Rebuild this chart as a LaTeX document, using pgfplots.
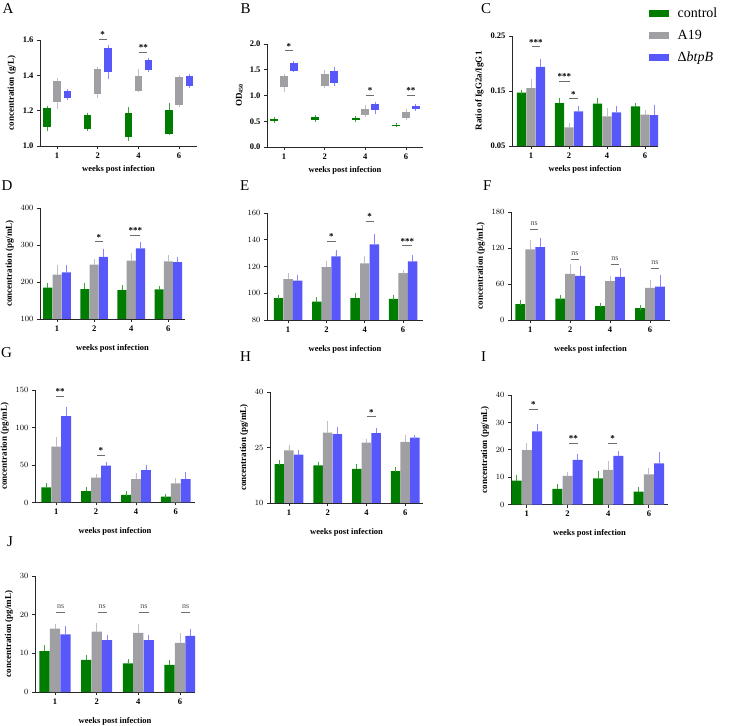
\documentclass[border=0pt]{standalone}
\usepackage{fontspec}
\setmainfont{Liberation Serif}
\usepackage{pgfplots}
\usepackage{pgfplotstable}
\pgfplotsset{compat=1.18}

\definecolor{cgreen}{RGB}{0,125,0}
\definecolor{cgreenl}{RGB}{60,165,60}
\definecolor{cgray}{RGB}{160,160,164}
\definecolor{cgrayl}{RGB}{192,192,196}
\definecolor{cblue}{RGB}{88,88,250}
\definecolor{cbluel}{RGB}{135,135,255}
\definecolor{axcol}{RGB}{40,40,40}
\definecolor{sigcol}{RGB}{110,110,110}

\tikzset{
  sigline/.style={sigcol, line width=0.8pt},
  sigtxt/.style={anchor=base, inner sep=0pt, yshift=1.5pt, font=\bfseries\fontsize{9}{9}\selectfont},
  nstxt/.style={anchor=base, inner sep=0pt, yshift=3.5pt, text=black!70, font=\fontsize{8}{8}\selectfont},
  letter/.style={anchor=base west, inner sep=0pt, font=\fontsize{15}{15}\selectfont},
}

\pgfplotsset{
  panel/.style={scale only axis, anchor=south west,
    axis x line*=bottom, axis y line*=left,
    axis line style={axcol, line width=0.8pt, -},
    tick align=outside, major tick length=3pt,
    tick style={axcol, line width=0.8pt},
    xtick={0,1,2,3}, xticklabels={1,2,4,6},
    scaled ticks=false,
    ticklabel style={font=\bfseries\fontsize{8.5}{9}\selectfont},
    xlabel style={font=\bfseries\fontsize{8.5}{10}\selectfont},
    ylabel style={font=\bfseries\fontsize{9}{10}\selectfont},
    xlabel={weeks post infection},
    ylabel={concentration (pg/mL)},
  },
  lowrow/.style={xlabel style={yshift=-6pt}},
  barpanel/.style={panel, lowrow, ybar, bar width=0.245, clip mode=individual},
  boxpanel/.style={panel, clip=false},
}

% floating boxes (range lq..uq) with whiskers (lw..uw) from a table
% args: table, fill colour, whisker colour, box width
\newcommand{\boxes}[4]{%
  \addplot[forget plot, draw=none, mark=none,
    error bars/.cd, y dir=both, y explicit,
    error bar style={draw=#3, line width=0.7pt},
    error mark options={draw=#3, line width=0.7pt, mark size=1.6pt}]
    table[x=x, y=lq, y error plus expr=\thisrow{uw}-\thisrow{lq},
          y error minus expr=\thisrow{lq}-\thisrow{lw}] {#1};
  \addplot[forget plot, draw=none, mark=none,
    error bars/.cd, y dir=plus, y explicit, error mark=none,
    error bar style={draw=#2, line width=#4}]
    table[x=x, y=lq, y error plus expr=\thisrow{uq}-\thisrow{lq}] {#1};
}

% three bar series (mean + upper SD) from a table
\newcommand{\barset}[1]{%
  \addplot[forget plot, fill=cgreen, draw=none, bar shift=-0.25,
    error bars/.cd, y dir=plus, y explicit,
    error bar style={draw=cgreenl, line width=0.8pt},
    error mark options={draw=cgreenl, line width=0.8pt, mark size=2.2pt}]
    table[x=x, y=c, y error=ce] {#1};
  \addplot[forget plot, fill=cgray, draw=none, bar shift=0,
    error bars/.cd, y dir=plus, y explicit,
    error bar style={draw=cgrayl, line width=0.8pt},
    error mark options={draw=cgrayl, line width=0.8pt, mark size=2.2pt}]
    table[x=x, y=a, y error=ae] {#1};
  \addplot[forget plot, fill=cblue, draw=none, bar shift=0.25,
    error bars/.cd, y dir=plus, y explicit,
    error bar style={draw=cbluel, line width=0.8pt},
    error mark options={draw=cbluel, line width=0.8pt, mark size=2.2pt}]
    table[x=x, y=b, y error=be] {#1};
}

% significance bar: x from, x to, text x, y, text
\newcommand{\sig}[5]{\draw[sigline] (axis cs:#1,#4) -- (axis cs:#2,#4);
  \node[sigtxt] at (axis cs:#3,#4) {#5};}
\newcommand{\ns}[4]{\draw[sigline] (axis cs:#1,#4) -- (axis cs:#2,#4);
  \node[nstxt] at (axis cs:#3,#4) {ns};}

% ---- A: serum protein (g/L), min / box / max
\pgfplotstableread{
x lw lq uq uw
-0.25 1.092 1.108 1.215 1.218
0.75 1.096 1.098 1.174 1.180
1.75 1.036 1.051 1.189 1.212
2.75 1.070 1.070 1.206 1.234
}\bAc
\pgfplotstableread{
x lw lq uq uw
0 1.221 1.248 1.367 1.373
1 1.282 1.297 1.435 1.439
2 1.314 1.314 1.399 1.424
3 1.231 1.231 1.392 1.395
}\bAa
\pgfplotstableread{
x lw lq uq uw
0.25 1.268 1.272 1.310 1.314
1.25 1.388 1.420 1.556 1.560
2.25 1.430 1.430 1.486 1.490
3.25 1.339 1.339 1.395 1.400
}\bAb
% ---- B: OD450
\pgfplotstableread{
x lw lq uq uw
-0.24 0.50 0.51 0.55 0.56
0.76 0.52 0.53 0.58 0.59
1.76 0.51 0.52 0.57 0.58
2.76 0.41 0.415 0.435 0.44
}\bBc
\pgfplotstableread{
x lw lq uq uw
0 1.108 1.173 1.381 1.385
1 1.173 1.186 1.420 1.466
2 0.62 0.62 0.73 0.78
3 0.56 0.56 0.67 0.70
}\bBa
\pgfplotstableread{
x lw lq uq uw
0.24 1.485 1.485 1.63 1.635
1.24 1.22 1.238 1.466 1.53
2.24 0.67 0.717 0.834 0.847
3.24 0.73 0.73 0.795 0.80
}\bBb

% columns: week index, control, sd, A19, sd, btpB mutant, sd
\pgfplotstableread{
x c ce a ae b be
0 0.147 0.0015 0.155 0.012 0.194 0.010
1 0.128 0.006 0.084 0.004 0.113 0.005
2 0.127 0.006 0.104 0.011 0.111 0.007
3 0.122 0.003 0.107 0.004 0.106 0.015
}\tabC
\pgfplotstableread{
x c ce a ae b be
0 185 5 220 19 226 14
1 181 9 247 9 268 16
2 178 7 258 15 291 11
3 180 4 256 10 254 8
}\tabD
\pgfplotstableread{
x c ce a ae b be
0 96.3 1.0 110.5 2.8 109.5 2.3
1 93.8 1.8 119.5 2.8 127.5 3.0
2 96.3 2.5 122.3 3.8 136.5 6.5
3 95.8 1.0 115.0 1.0 123.8 2.8
}\tabE
\pgfplotstableread{
x c ce a ae b be
0 26.4 2.9 117.6 12.4 121.5 10.7
1 35.5 2.2 77.0 12.0 73.7 12.3
2 23.1 2.2 64.7 5.6 72.0 11.3
3 19.7 1.1 53.5 10.1 55.7 16.3
}\tabF
\pgfplotstableread{
x c ce a ae b be
0 20.0 2.4 74.4 9.8 115.0 9.5
1 15.3 2.3 33.0 2.0 49.0 2.3
2 10.0 2.2 31.0 6.0 43.3 3.6
3 7.8 0.8 25.6 4.4 31.3 6.3
}\tabG
\pgfplotstableread{
x c ce a ae b be
0 20.5 0.4 24.2 1.0 23.1 0.7
1 20.2 0.3 29.0 2.7 28.6 1.3
2 19.2 0.8 26.3 0.5 28.9 0.8
3 18.6 0.4 26.5 1.4 27.7 0.2
}\tabH
\pgfplotstableread{
x c ce a ae b be
0 8.8 1.4 19.9 1.7 26.7 2.1
1 5.8 0.8 10.5 0.7 16.3 1.4
2 9.6 1.8 12.7 2.4 17.8 0.9
3 4.8 0.7 11.1 1.3 15.1 3.3
}\tabI
\pgfplotstableread{
x c ce a ae b be
0 10.6 0.9 16.4 0.6 14.9 1.7
1 8.3 0.7 15.6 1.6 13.4 0.7
2 7.4 0.6 15.3 1.8 13.4 0.8
3 7.0 0.7 12.7 2.0 14.5 1.3
}\tabJ

\begin{document}
\begin{tikzpicture}
\useasboundingbox (0,0) rectangle (730pt,725pt);

% panel letters
\node[letter] at (2.5pt,711.7pt) {A};
\node[letter] at (240.5pt,711.7pt) {B};
\node[letter] at (481pt,711.7pt) {C};
\node[letter] at (1.5pt,534pt) {D};
\node[letter] at (240pt,534pt) {E};
\node[letter] at (483pt,534pt) {F};
\node[letter] at (1pt,367pt) {G};
\node[letter] at (240pt,363pt) {H};
\node[letter] at (481pt,363pt) {I};
\node[letter] at (7pt,178pt) {J};

% A
\begin{axis}[boxpanel, at={(40pt,579pt)}, width=157pt, height=106pt,
  xmin=-0.42, xmax=3.44, ymin=1.0, ymax=1.6,
  ytick={1,1.2,1.4,1.6}, yticklabels={1.0,1.2,1.4,1.6},
  ylabel={concentration (g/L)}]
\boxes{\bAc}{cgreen}{cgreenl}{7.3pt}
\boxes{\bAa}{cgray}{cgrayl}{7.3pt}
\boxes{\bAb}{cblue}{cbluel}{7.3pt}
\sig{1.02}{1.22}{1.12}{1.604}{*}
\sig{2.02}{2.22}{2.12}{1.53}{**}
\end{axis}

% B
\begin{axis}[boxpanel, at={(267pt,578pt)}, width=156pt, height=103pt,
  xmin=-0.42, xmax=3.42, ymin=0, ymax=2,
  ytick={0,0.5,1,1.5,2}, yticklabels={0.0,0.5,1.0,1.5,2.0},
  ylabel={OD\textsubscript{450}}]
\boxes{\bBc}{cgreen}{cgreenl}{8pt}
\boxes{\bBa}{cgray}{cgrayl}{8pt}
\boxes{\bBb}{cblue}{cbluel}{8pt}
\sig{0.02}{0.22}{0.12}{1.87}{*}
\sig{2.02}{2.22}{2.12}{1.0}{*}
\sig{3.02}{3.22}{3.12}{1.0}{**}
\end{axis}

% C: IgG2a/IgG1 ratio, with the legend
\begin{axis}[panel, ybar, bar width=0.245, clip mode=individual,
  at={(512pt,579pt)}, width=146pt, height=110pt,
  xmin=-0.5, xmax=3.34, ymin=0.05, ymax=0.25,
  ytick={0.05,0.15,0.25}, yticklabels={0.05,0.15,0.25},
  ylabel={Ratio of IgG2a/IgG1},
  legend cell align=left,
  legend style={at={(0.918,1.30)}, anchor=north west, draw=none, fill=none,
    font=\fontsize{14}{15}\selectfont, row sep=5pt,
    /tikz/every odd column/.append style={column sep=7pt},
    nodes={inner sep=2pt, text height=10pt, text depth=3pt}}]
\barset{\tabC}
\sig{0.02}{0.24}{0.13}{0.2305}{***}
\sig{0.74}{1.02}{0.88}{0.168}{***}
\sig{1.0}{1.23}{1.115}{0.136}{*}
\addlegendimage{legend image code/.code={\fill[cgreen] (0pt,-3pt) rectangle (19pt,3pt);}}
\addlegendentry{control}
\addlegendimage{legend image code/.code={\fill[cgray] (0pt,-3pt) rectangle (19pt,3pt);}}
\addlegendentry{A19}
\addlegendimage{legend image code/.code={\fill[cblue] (0pt,-3pt) rectangle (19pt,3pt);}}
\addlegendentry{Δ\textit{btpB}}
\end{axis}

% D
\begin{axis}[barpanel, at={(40pt,406pt)}, width=145pt, height=111pt,
  xmin=-0.46, xmax=3.45, ymin=100, ymax=400, ytick={100,200,300,400}]
\barset{\tabD}
\sig{1.02}{1.24}{1.13}{309}{*}
\sig{1.98}{2.24}{2.11}{327}{***}
\end{axis}

% E
\begin{axis}[barpanel, at={(267pt,405pt)}, width=156pt, height=107pt,
  xmin=-0.55, xmax=3.52, ymin=80, ymax=160, ytick={80,100,120,140,160},
  ylabel={}]
\barset{\tabE}
\sig{1.02}{1.24}{1.13}{138.75}{*}
\sig{2.02}{2.24}{2.13}{153.75}{*}
\sig{2.98}{3.24}{3.11}{135.5}{***}
\end{axis}

% F
\begin{axis}[barpanel, at={(511pt,405pt)}, width=159pt, height=108pt,
  xmin=-0.48, xmax=3.5, ymin=0, ymax=180, ytick={0,60,120,180}]
\barset{\tabF}
\ns{0.0}{0.2}{0.1}{151.3}
\ns{1.02}{1.22}{1.12}{101.8}
\ns{2.02}{2.22}{2.12}{92.8}
\ns{3.02}{3.22}{3.12}{86.6}
\end{axis}

% G
\begin{axis}[barpanel, at={(35pt,222.5pt)}, width=160pt, height=112.5pt,
  xmin=-0.53, xmax=3.48, ymin=0, ymax=150, ytick={0,50,100,150}]
\barset{\tabG}
\sig{0.0}{0.2}{0.1}{142}{**}
\sig{1.02}{1.22}{1.12}{63.3}{*}
\end{axis}

% H
\begin{axis}[barpanel, at={(270pt,222pt)}, width=153pt, height=111pt,
  xmin=-0.49, xmax=3.46, ymin=10, ymax=40, ytick={10,25,40}]
\barset{\tabH}
\sig{2.02}{2.24}{2.13}{33.3}{*}
\end{axis}

% I
\begin{axis}[barpanel, at={(511pt,220.3pt)}, width=157pt, height=109.7pt,
  xmin=-0.39, xmax=3.47, ymin=0, ymax=40, ytick={0,10,20,30,40}]
\barset{\tabI}
\sig{0.05}{0.27}{0.16}{34.8}{*}
\sig{1.04}{1.25}{1.145}{22.4}{**}
\sig{2.0}{2.22}{2.11}{22.4}{*}
\end{axis}

% J
\begin{axis}[barpanel, at={(35pt,33pt)}, width=160pt, height=116pt,
  xmin=-0.48, xmax=3.36, ymin=0, ymax=30, ytick={0,10,20,30}]
\barset{\tabJ}
\ns{0.02}{0.25}{0.135}{20.6}
\ns{1.02}{1.25}{1.135}{20.6}
\ns{2.02}{2.25}{2.135}{20.6}
\ns{3.02}{3.25}{3.135}{20.6}
\end{axis}
\end{tikzpicture}
\end{document}
